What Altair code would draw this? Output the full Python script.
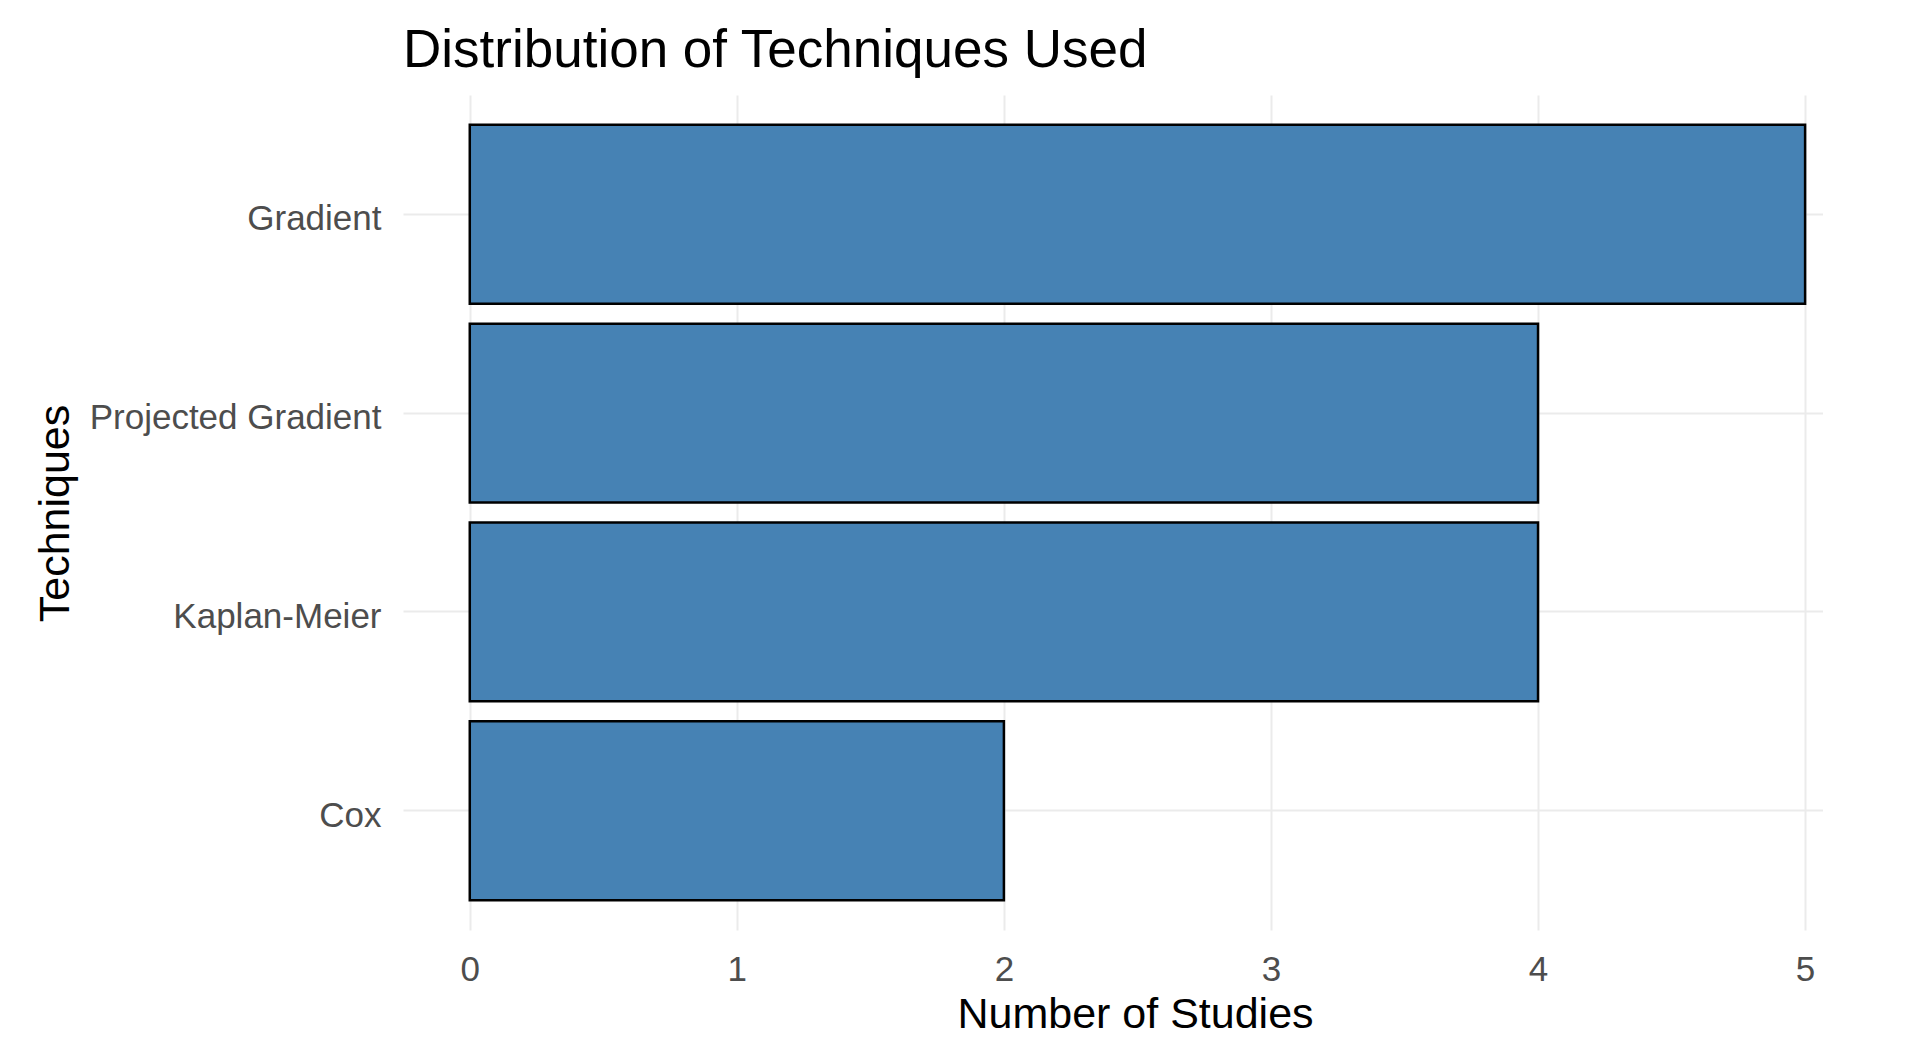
import altair as alt
import pandas as pd

techniques = ["Gradient", "Projected Gradient", "Kaplan-Meier", "Cox"]
studies = [5, 4, 4, 2]
x_grid_values = [0, 0.5, 1, 1.5, 2, 2.5, 3, 3.5, 4, 4.5, 5]

df = pd.DataFrame({"Technique": techniques, "Studies": studies})

FONT = "Liberation Sans"

bars = alt.Chart(df).mark_bar(
    color="#4682B4", stroke="#000000", strokeWidth=2.5
).encode(
    y=alt.Y(
        "Technique:N",
        sort=techniques,
        scale=alt.Scale(paddingInner=0.1, paddingOuter=0.15),
        axis=alt.Axis(
            title="Techniques",
            titleFontSize=43,
            titleFont=FONT,
            titleFontWeight="normal",
            titleColor="#000000",
            titleAngle=270,
            titleBaseline="middle",
            titleAlign="center",
            titleX=-348,
            titleY=418,
            labelFont=FONT,
            labelFontSize=35,
            labelColor="#4D4D4D",
            labelPadding=22,
            labelLimit=500,
            labelOffset=5,
            ticks=False,
            domain=False,
            grid=True,
            gridColor="#EBEBEB",
            gridWidth=2,
        ),
    ),
    x=alt.X(
        "Studies:Q",
        scale=alt.Scale(domain=[-0.25, 5.067], nice=False, zero=False),
        axis=alt.Axis(
            title="Number of Studies",
            titleFontSize=43,
            titleFont=FONT,
            titleFontWeight="normal",
            titleColor="#000000",
            titlePadding=6,
            titleX=732,
            values=x_grid_values,
            format="d",
            labelExpr="datum.value % 1 === 0 ? datum.label : ''",
            labelFont=FONT,
            labelFontSize=35,
            labelColor="#4D4D4D",
            labelPadding=22,
            ticks=False,
            domain=False,
            grid=True,
            gridColor="#EBEBEB",
            gridWidth={"condition": {"test": "datum.value % 1 === 0", "value": 2}, "value": 1.2},
        ),
    ),
    x2=alt.datum(0),
)

chart = bars.properties(
    width=1420,
    height=835,
    background="white",
    title=alt.TitleParams(
        "Distribution of Techniques Used",
        anchor="start",
        frame="group",
        font=FONT,
        fontSize=53,
        fontWeight="normal",
        color="#000000",
        offset=17,
    ),
    padding={"left": 26, "top": 17, "right": 0, "bottom": 0},
).configure_view(stroke=None)

chart.save("out.html", embed_options={"renderer": "svg", "actions": False})
